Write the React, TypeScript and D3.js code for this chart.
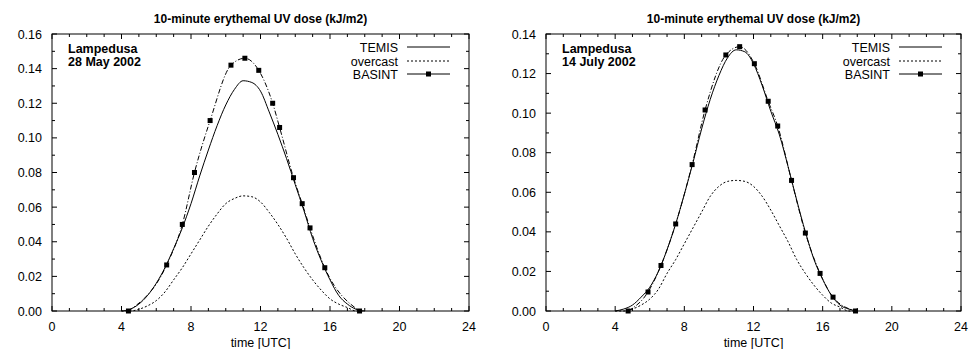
import React from "react"
import * as d3 from "d3"

// half-hour sampling of the modelled curves, 4:00 .. 18:00 UTC
const HOURS = [4, 4.5, 5, 5.5, 6, 6.5, 7, 7.5, 8, 8.5, 9, 9.5, 10, 10.5, 11, 11.5, 12, 12.5, 13, 13.5, 14, 14.5, 15, 15.5, 16, 16.5, 17, 17.5, 18]

const TEMIS_MAY = [0, 0.001, 0.004, 0.009, 0.016, 0.025, 0.036, 0.048, 0.062, 0.078, 0.093, 0.107, 0.119, 0.128, 0.133, 0.132, 0.127, 0.115, 0.102, 0.088, 0.073, 0.058, 0.042, 0.029, 0.018, 0.009, 0.004, 0.001, 0]
const OVERCAST_MAY = [0, 0, 0.001, 0.003, 0.006, 0.011, 0.018, 0.025, 0.033, 0.041, 0.049, 0.056, 0.062, 0.065, 0.0665, 0.066, 0.063, 0.057, 0.05, 0.042, 0.033, 0.025, 0.018, 0.012, 0.007, 0.004, 0.002, 0, 0]
const BASINT_MAY_T = [4.4, 6.6, 7.5, 8.2, 9.1, 10.3, 11.1, 11.9, 12.7, 13.1, 13.9, 14.4, 14.85, 15.7, 17.7]
const BASINT_MAY = [0, 0.0266, 0.05, 0.08, 0.11, 0.142, 0.146, 0.139, 0.12, 0.106, 0.077, 0.062, 0.048, 0.025, 0]

const TEMIS_JUL = [0, 0.001, 0.003, 0.007, 0.012, 0.02, 0.031, 0.044, 0.059, 0.075, 0.092, 0.107, 0.119, 0.128, 0.132, 0.131, 0.125, 0.114, 0.101, 0.089, 0.073, 0.056, 0.04, 0.026, 0.016, 0.008, 0.003, 0.001, 0]
const OVERCAST_JUL = [0, 0, 0.001, 0.003, 0.006, 0.011, 0.019, 0.026, 0.034, 0.042, 0.05, 0.058, 0.063, 0.0655, 0.066, 0.0655, 0.063, 0.058, 0.051, 0.043, 0.035, 0.026, 0.019, 0.013, 0.008, 0.004, 0.002, 0, 0]
const BASINT_JUL_T = [4.75, 5.9, 6.65, 7.5, 8.45, 9.2, 10.4, 11.2, 12.05, 12.85, 13.4, 14.2, 15.0, 15.85, 16.6, 17.9]
const BASINT_JUL = [0, 0.0096, 0.023, 0.044, 0.074, 0.1016, 0.1294, 0.1336, 0.125, 0.106, 0.0935, 0.066, 0.0394, 0.019, 0.007, 0]

const X_TICKS = [0, 4, 8, 12, 16, 20, 24]
const TITLE = "10-minute erythemal UV dose (kJ/m2)"
const LEGEND = ["TEMIS", "overcast", "BASINT"]

const FONT = "'Liberation Sans', Arial, Helvetica, sans-serif"

interface PanelProps {
  left: number
  right: number
  yMax: number
  place: string
  date: string
  temis: number[]
  overcast: number[]
  basT: number[]
  basV: number[]
}

const TOP = 34
const BOTTOM = 311

function Panel({ left, right, yMax, place, date, temis, overcast, basT, basV }: PanelProps) {
  const x = d3.scaleLinear().domain([0, 24]).range([left, right])
  const y = d3.scaleLinear().domain([0, yMax]).range([BOTTOM, TOP])
  const fmt = d3.format(".2f")

  const curve = (vals: number[]) =>
    d3.line<number>().x((_, i) => x(HOURS[i])).y((v) => y(v)).curve(d3.curveMonotoneX)(vals) ?? ""
  const basPath =
    d3.line<number>().x((t) => x(t)).y((_, i) => y(basV[i])).curve(d3.curveMonotoneX)(basT) ?? ""

  const minorX = d3.range(0, 25, 1)
  const yMajor = d3.range(0, yMax + 1e-9, 0.02)
  const yMinor = d3.range(0, yMax + 1e-9, 0.01)

  const legX = right - 71
  const legY = [47, 61, 74]

  return (
    <g fontFamily={FONT}>
      <text x={(left + right) / 2} y={23} textAnchor="middle" fontSize={12} fontWeight="bold">{TITLE}</text>

      {/* ticks, mirrored on all four sides */}
      {minorX.map((t) => {
        const len = t % 4 === 0 ? 5 : 3
        return (
          <g key={"xt" + t} stroke="#000" strokeWidth={1}>
            <line x1={x(t)} x2={x(t)} y1={BOTTOM} y2={BOTTOM - len} />
            <line x1={x(t)} x2={x(t)} y1={TOP} y2={TOP + len} />
          </g>
        )
      })}
      {yMinor.map((v, i) => {
        const len = i % 2 === 0 ? 5 : 3
        return (
          <g key={"yt" + i} stroke="#000" strokeWidth={1}>
            <line x1={left} x2={left + len} y1={y(v)} y2={y(v)} />
            <line x1={right} x2={right - len} y1={y(v)} y2={y(v)} />
          </g>
        )
      })}

      {X_TICKS.map((t) => (
        <text key={"xl" + t} x={x(t)} y={BOTTOM + 20} textAnchor="middle" fontSize={12.5}>{t}</text>
      ))}
      {yMajor.map((v, i) => (
        <text key={"yl" + i} x={left - 10} y={y(v) + 4.5} textAnchor="end" fontSize={12.5}>{fmt(v)}</text>
      ))}
      <text x={(left + right) / 2} y={347} textAnchor="middle" fontSize={12.5}>time [UTC]</text>

      {/* series */}
      <path d={curve(overcast)} fill="none" stroke="#000" strokeWidth={1} strokeDasharray="2,2" />
      <path d={curve(temis)} fill="none" stroke="#000" strokeWidth={1} />
      <path d={basPath} fill="none" stroke="#000" strokeWidth={1} strokeDasharray="5,2,1,2" />
      {basT.map((t, i) => (
        <rect key={"m" + i} x={x(t) - 2.5} y={y(basV[i]) - 2.5} width={5} height={5} fill="#000" />
      ))}

      <rect x={left} y={TOP} width={right - left} height={BOTTOM - TOP} fill="none" stroke="#000" strokeWidth={1} />

      <text x={left + 16} y={53} fontSize={12.5} fontWeight="bold">{place}</text>
      <text x={left + 16} y={66} fontSize={12.5} fontWeight="bold">{date}</text>

      {LEGEND.map((name, i) => (
        <text key={name} x={legX} y={legY[i] + 4.5} textAnchor="end" fontSize={12.5}>{name}</text>
      ))}
      <line x1={legX + 9} x2={legX + 52} y1={legY[0]} y2={legY[0]} stroke="#000" />
      <line x1={legX + 9} x2={legX + 52} y1={legY[1]} y2={legY[1]} stroke="#000" strokeDasharray="2,2" />
      <line x1={legX + 9} x2={legX + 52} y1={legY[2]} y2={legY[2]} stroke="#000" />
      <rect x={legX + 28} y={legY[2] - 2.5} width={5} height={5} fill="#000" />
    </g>
  )
}

export default function App() {
  return (
    <svg width={970} height={349} style={{ position: "absolute", left: 0, top: 0, background: "#fff" }}>
      <Panel left={52} right={469} yMax={0.16} place="Lampedusa" date="28 May 2002"
        temis={TEMIS_MAY} overcast={OVERCAST_MAY} basT={BASINT_MAY_T} basV={BASINT_MAY} />
      <Panel left={546} right={961} yMax={0.14} place="Lampedusa" date="14 July 2002"
        temis={TEMIS_JUL} overcast={OVERCAST_JUL} basT={BASINT_JUL_T} basV={BASINT_JUL} />
    </svg>
  )
}
